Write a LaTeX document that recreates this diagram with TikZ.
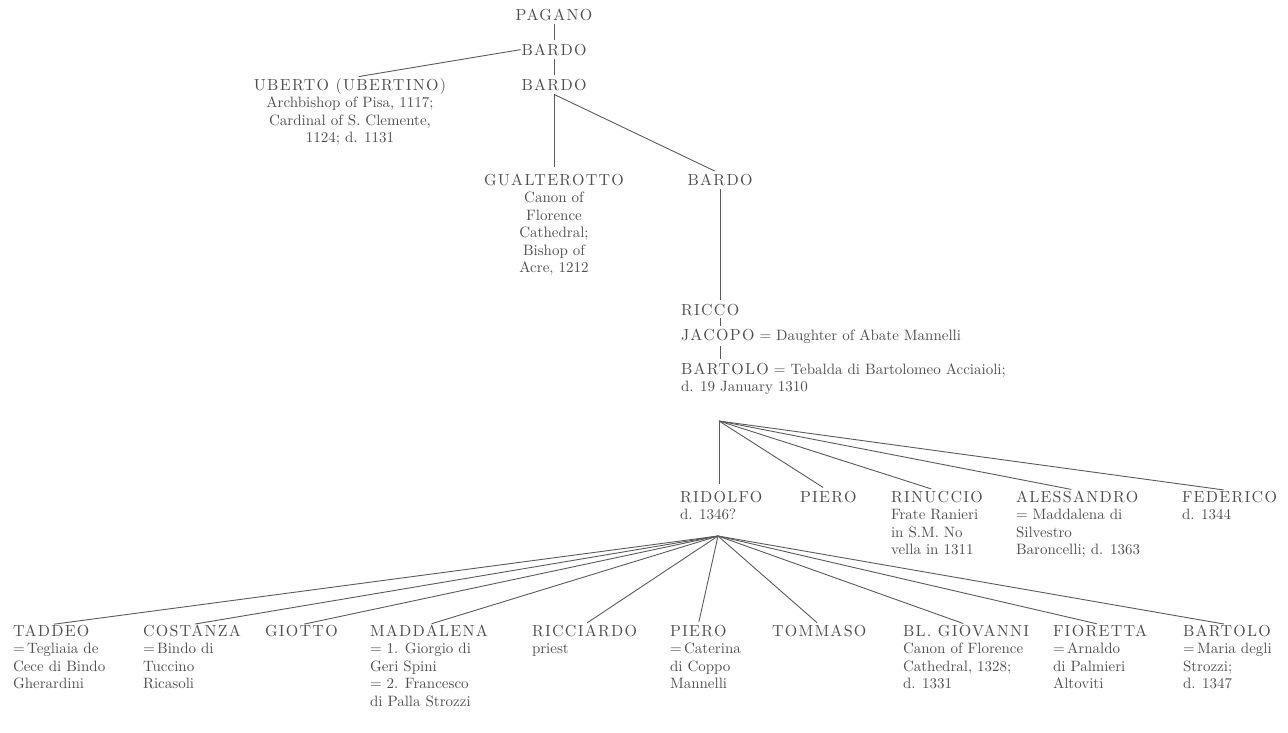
\documentclass[tikz,border=0pt]{standalone}
\usepackage{fontspec}
\setmainfont{lmroman10-regular.otf}
\usetikzlibrary{calc}
\definecolor{txtc}{HTML}{4E4E4E}
\definecolor{linec}{HTML}{5A5A5A}
\newcommand\fs{\fontsize{15pt}{17.5pt}\selectfont}
\newcommand\capsfeat{\fontsize{16pt}{17.5pt}\selectfont\addfontfeature{LetterSpace=8}}
\newcommand\detl[1]{\begin{tabular}[t]{@{}l@{}}#1\end{tabular}}
\newcommand\detc[1]{\begin{tabular}[t]{@{}c@{}}#1\end{tabular}}
\tikzset{
  nm/.style={inner sep=0pt, outer sep=0pt, text=txtc, font=\fs\capsfeat},
  dt/.style={inner sep=0pt, outer sep=0pt, text=txtc, font=\fs},
  ln/.style={draw=linec, line width=0.9pt, shorten >=4pt, shorten <=4pt},
}
\begin{document}
\begin{tikzpicture}[x=1pt,y=-1pt]
\path[use as bounding box] (0,0) rectangle (1288,732);
% top generations
\node[nm, anchor=base] (pagano) at (554,20) {PAGANO};
\node[nm, anchor=base] (bardoa) at (554,55) {BARDO};
\node[nm, anchor=base] (bardob) at (554,90) {BARDO};
\node[nm, anchor=base] (uberto) at (350,90) {UBERTO (UBERTINO)};
\node[dt, anchor=base] (ubertod) at (350,107.5) {\detc{Archbishop of Pisa, 1117;\\ Cardinal of S. Clemente,\\ 1124; d. 1131}};
\node[nm, anchor=base] (gual) at (554,185) {GUALTEROTTO};
\node[dt, anchor=base] (guald) at (554,202.5) {\detc{Canon of\\ Florence\\ Cathedral;\\ Bishop of\\ Acre, 1212}};
\node[nm, anchor=base] (bardoc) at (720,185) {BARDO};
\node[nm, anchor=base west] (ricco) at (681,315) {RICCO};
\node[dt, anchor=base west] (jacopo) at (681,340) {{\capsfeat JACOPO} = Daughter of Abate Mannelli};
\node[dt, anchor=base west] (bartolo) at (681,374) {\detl{{\capsfeat BARTOLO} = Tebalda di Bartolomeo Acciaioli;\\ d. 19 January 1310}};
\coordinate (hubb) at ($(bardob.south)+(0,4)$);
\coordinate (hub1) at (719,421);
% middle generation
\node[nm, anchor=base west] (ridolfo) at (680,502) {RIDOLFO};
\node[dt, anchor=base west] (ridolfod) at (680,519.5) {d. 1346?};
\node[nm, anchor=base west] (pieroa) at (800,502) {PIERO};
\node[nm, anchor=base west] (rinuccio) at (891,502) {RINUCCIO};
\node[dt, anchor=base west] (rinucciod) at (891,519.5) {\detl{Frate Ranieri\\ in S.M. No\\ vella in 1311}};
\node[nm, anchor=base west] (aless) at (1016,502) {ALESSANDRO};
\node[dt, anchor=base west] (alessd) at (1016,519.5) {\detl{= Maddalena di\\ Silvestro\\ Baroncelli; d. 1363}};
\node[nm, anchor=base west] (feder) at (1182,502) {FEDERICO};
\node[dt, anchor=base west] (federd) at (1182,519.5) {d. 1344};
\coordinate (hub2) at (718,536);
% bottom generation
\node[nm, anchor=base west] (taddeo) at (13,636) {TADDEO};
\node[dt, anchor=base west] (taddeod) at (13,653.5) {\detl{=\,Tegliaia de\\ Cece di Bindo\\ Gherardini}};
\node[nm, anchor=base west] (costanza) at (143,636) {COSTANZA};
\node[dt, anchor=base west] (costanzad) at (143,653.5) {\detl{=\,Bindo di\\ Tuccino\\ Ricasoli}};
\node[nm, anchor=base west] (giotto) at (265,636) {GIOTTO};
\node[nm, anchor=base west] (madd) at (370,636) {MADDALENA};
\node[dt, anchor=base west] (maddd) at (370,653.5) {\detl{= 1. Giorgio di\\ Geri Spini\\ = 2. Francesco\\ di Palla Strozzi}};
\node[nm, anchor=base west] (ricc) at (532,636) {RICCIARDO};
\node[dt, anchor=base west] (riccd) at (532,653.5) {priest};
\node[nm, anchor=base west] (pierob) at (670,636) {PIERO};
\node[dt, anchor=base west] (pierobd) at (670,653.5) {\detl{=\,Caterina\\ di Coppo\\ Mannelli}};
\node[nm, anchor=base west] (tomm) at (772,636) {TOMMASO};
\node[nm, anchor=base west] (giov) at (903,636) {BL. GIOVANNI};
\node[dt, anchor=base west] (giovd) at (903,653.5) {\detl{Canon of Florence\\ Cathedral, 1328;\\ d. 1331}};
\node[nm, anchor=base west] (fior) at (1053,636) {FIORETTA};
\node[dt, anchor=base west] (fiord) at (1053,653.5) {\detl{=\,Arnaldo\\ di Palmieri\\ Altoviti}};
\node[nm, anchor=base west] (bartb) at (1183,636) {BARTOLO};
\node[dt, anchor=base west] (bartbd) at (1183,653.5) {\detl{=\,Maria degli\\ Strozzi;\\ d. 1347}};
% connectors
\draw[ln] (pagano) -- (bardoa);
\draw[ln, shorten <=9pt, shorten >=1pt] (uberto.north) -- (bardoa.west);
\draw[ln] (bardoa) -- (bardob);
\draw[ln, shorten <=0pt, shorten >=7pt] (hubb) -- (gual.north);
\draw[ln, shorten <=0pt, shorten >=6pt] (hubb) -- (bardoc.north);
\draw[ln] (bardoc.south) -- (ricco.north -| bardoc);
\draw[ln, shorten <=3pt, shorten >=3pt] (ricco.south -| bardoc) -- (jacopo.north -| bardoc);
\draw[ln, shorten <=3pt, shorten >=3pt] (jacopo.south -| bardoc) -- (bartolo.north -| bardoc);
\draw[ln, shorten <=0pt, shorten >=7pt] (hub1) -- (ridolfo.north -| hub1);
\foreach \n in {pieroa, rinuccio, aless, feder}
  \draw[ln, shorten <=0pt, shorten >=6pt] (hub1) -- (\n.north);
\foreach \n in {taddeo, costanza, giotto, madd, ricc, pierob, tomm, giov, fior, bartb}
  \draw[ln, shorten <=0pt, shorten >=3pt] (hub2) -- (\n.north);
\end{tikzpicture}
\end{document}
